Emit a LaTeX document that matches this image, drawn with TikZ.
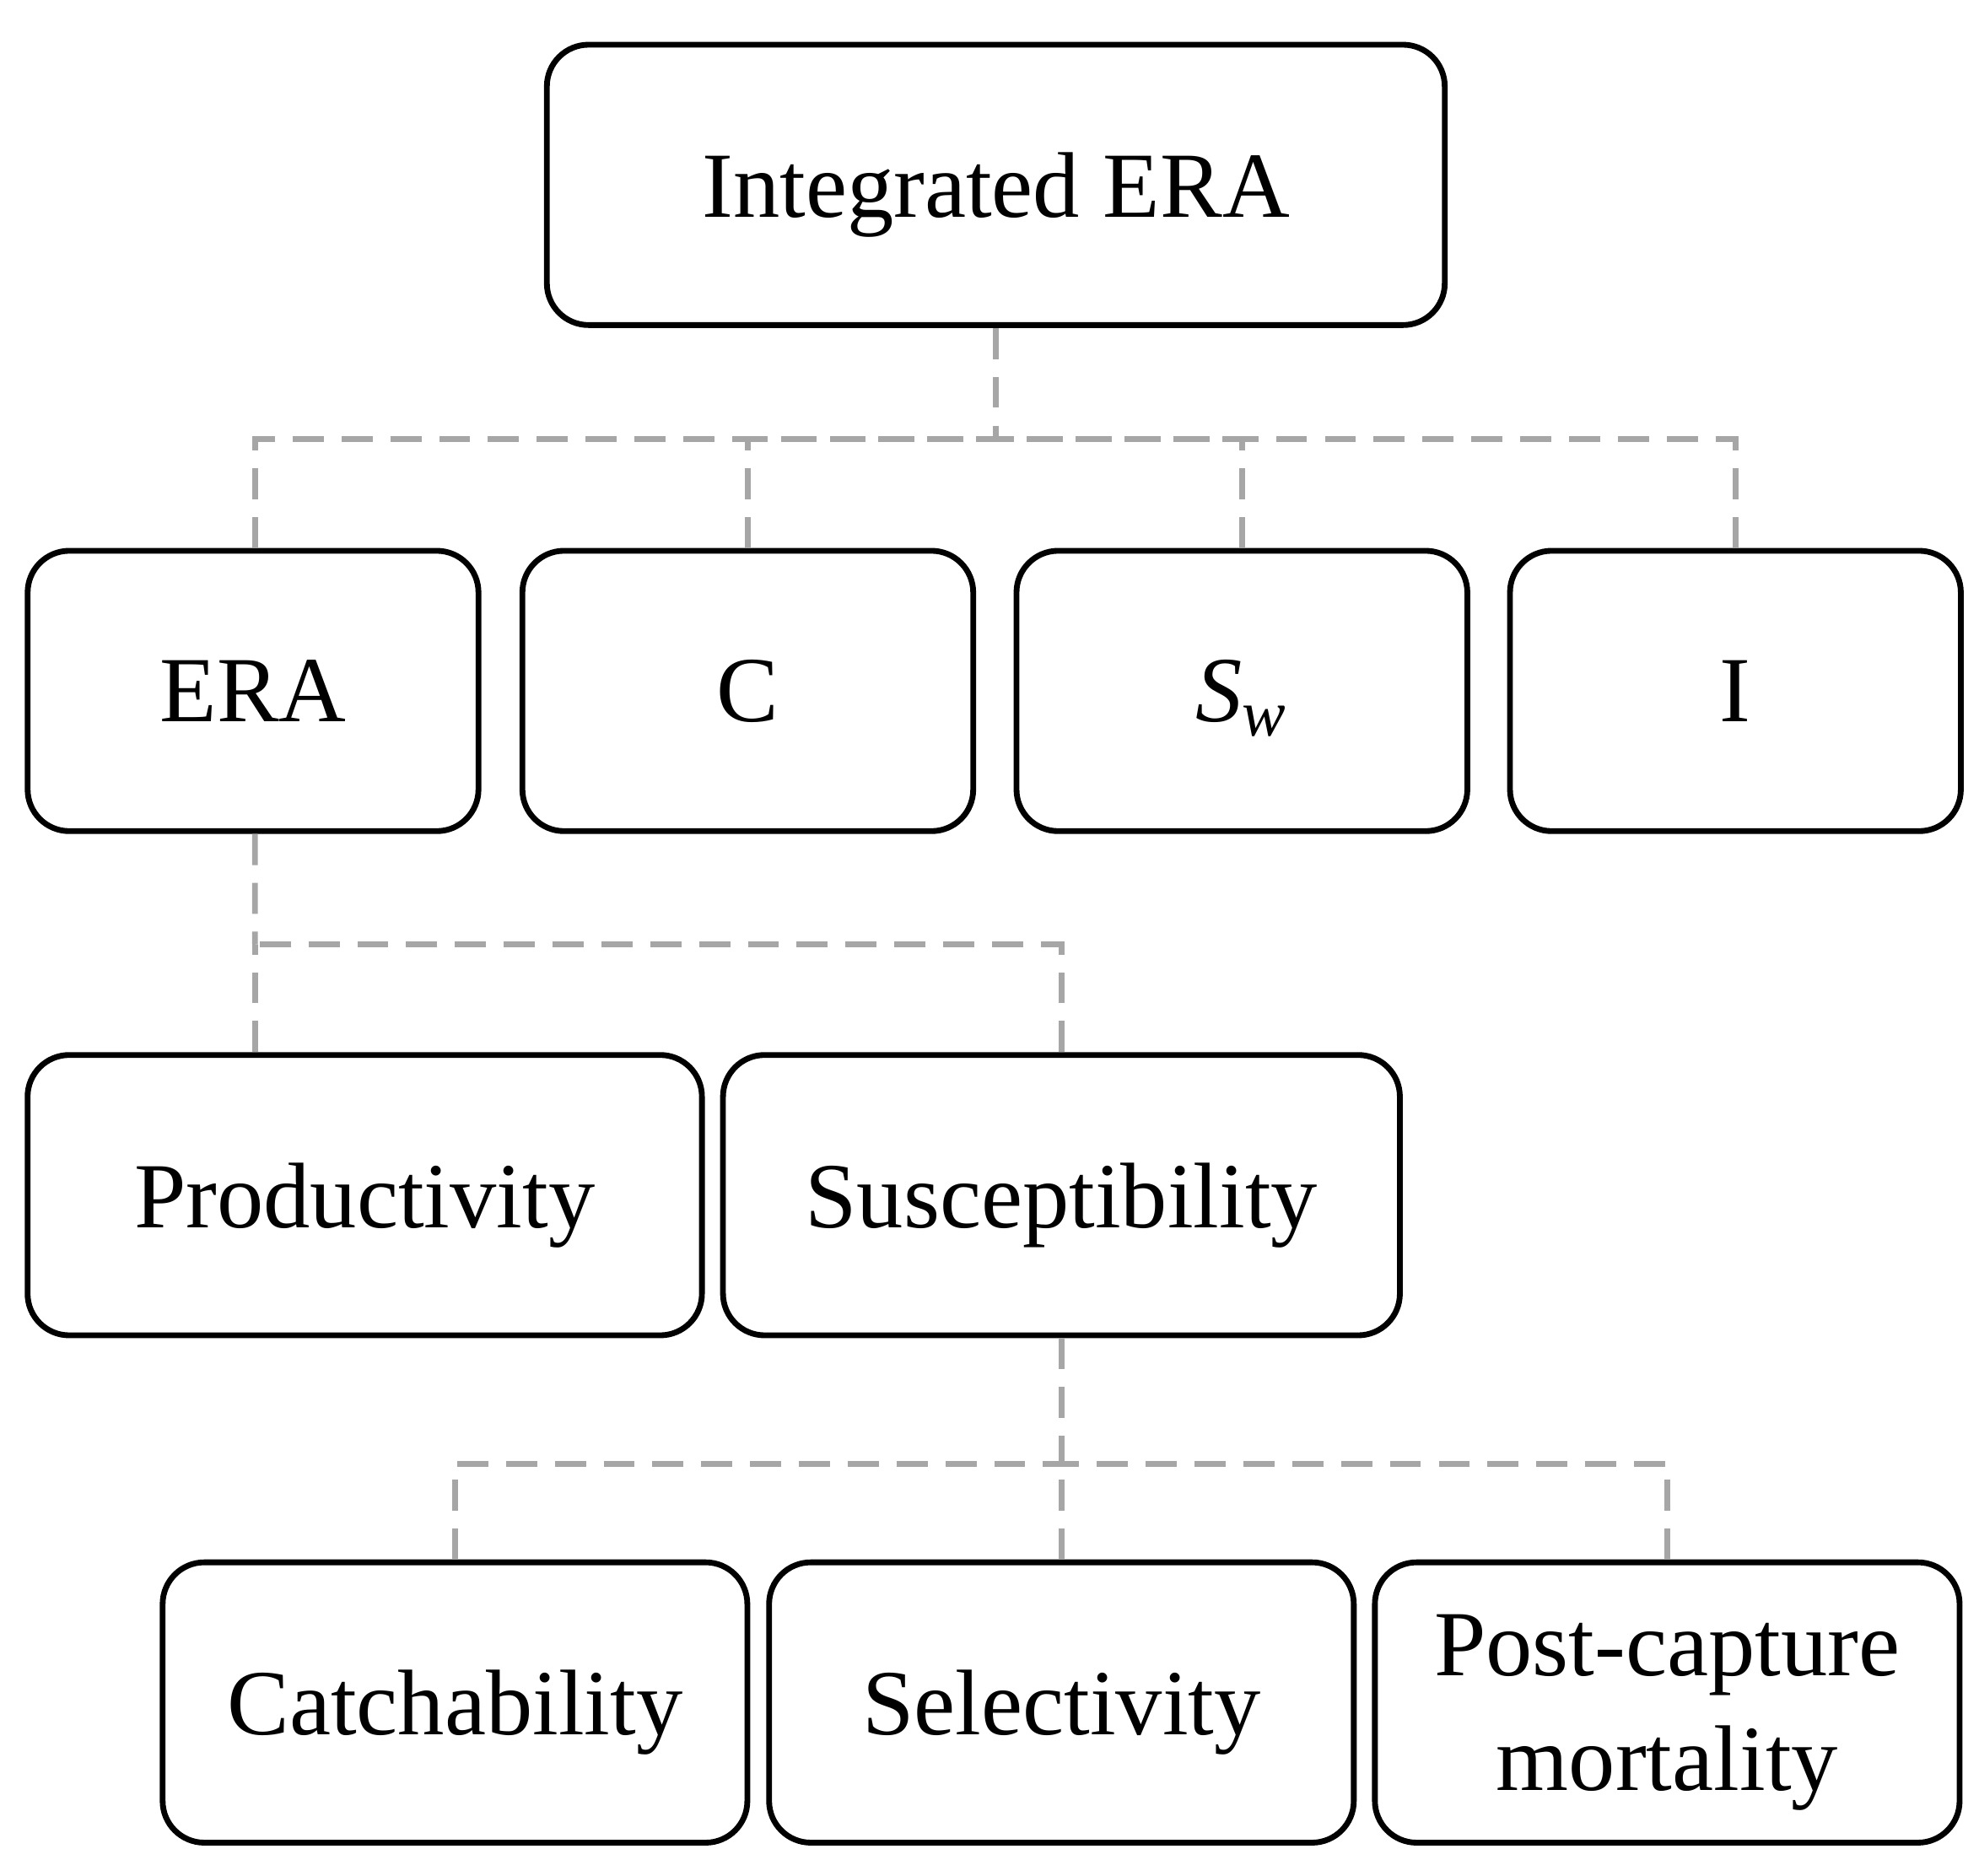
\documentclass[tikz,border=0pt]{standalone}
\usepackage{fontspec}
\setmainfont{Liberation Serif}
\begin{document}
\begin{tikzpicture}[x=0.01cm,y=-0.01cm,
 box/.style={draw=black,line width=1.3pt,rounded corners=0.33cm,fill=white,align=center,
   font=\fontsize{21}{26}\selectfont,minimum height=2.22cm,inner sep=0pt,text depth=0pt},
 conn/.style={draw=black!35,line width=1.3pt,dash pattern=on 7pt off 4pt}]
\useasboundingbox (0,0) rectangle (1568,1486);
\node[box,minimum width=7.11cm] (top) at (789,146.5) {Integrated ERA};
\node[box,minimum width=3.57cm] (era) at (200.5,547.5) {ERA};
\node[box,minimum width=3.57cm] (c) at (592.5,547.5) {C};
\node[box,minimum width=3.57cm] (sw) at (984,547.5) {\textit{S}\textsubscript{\textit{w}}};
\node[box,minimum width=3.57cm] (i) at (1375,547.5) {I};
\node[box,minimum width=5.34cm] (prod) at (289,947) {Productivity};
\node[box,minimum width=5.36cm] (sus) at (841,947) {Susceptibility};
\node[box,minimum width=4.63cm] (cat) at (360.5,1349) {Catchability};
\node[box,minimum width=4.63cm] (sel) at (841,1349) {Selectivity};
\node[box,minimum width=4.63cm] (post) at (1321,1349) {Post-capture\\mortality};
\coordinate (j1) at (789,348);
\coordinate (j2) at (202,748);
\coordinate (j3) at (841,1160);
\draw[conn] (top.south) -- (j1);
\draw[conn] ([xshift=0.015cm]era.north) |- (j1);
\draw[conn] (c.north) |- (j1);
\draw[conn] (sw.north) |- (j1);
\draw[conn] (i.north) |- (j1);
\draw[conn] ([xshift=0.015cm]era.south) -- (j2);
\draw[conn] ([xshift=-0.87cm]prod.north) |- (j2);
\draw[conn] (sus.north) |- (j2);
\draw[conn] (sus.south) -- (j3);
\draw[conn] (cat.north) |- (j3);
\draw[conn] (sel.north) |- (j3);
\draw[conn] (post.north) |- (j3);
\end{tikzpicture}
\end{document}
